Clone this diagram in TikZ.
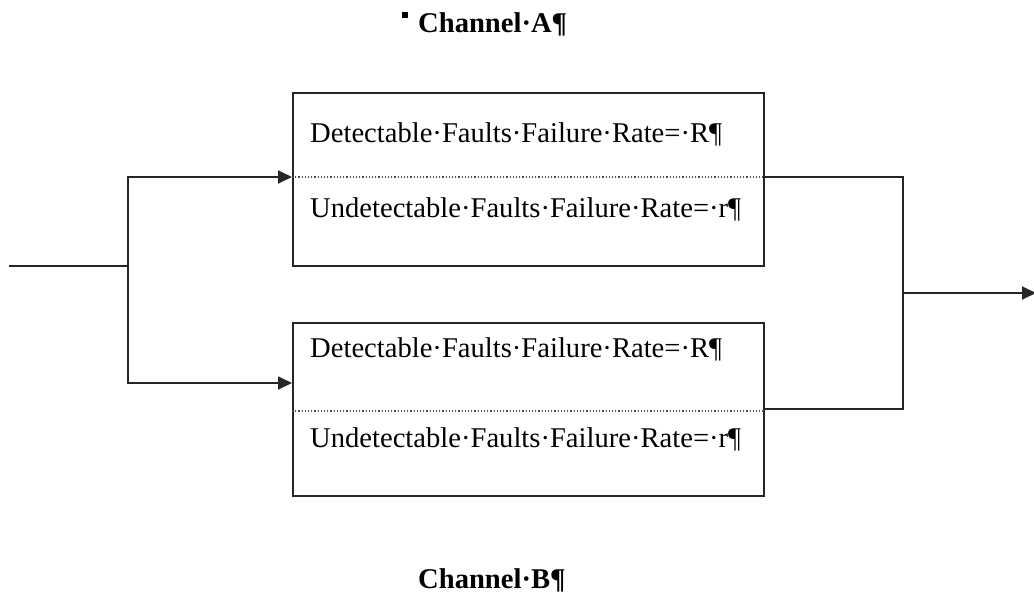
\documentclass[tikz,border=0pt]{standalone}
\usepackage{fontspec}
\setmainfont{Liberation Serif}
\usepackage{tikz}
\usetikzlibrary{positioning, arrows.meta, calc}

\tikzset{
  wire/.style={line width=1.8pt, draw=black!85},
  feed/.style={wire, -{Triangle[length=14pt,width=13pt]}},
  chanbox/.style={draw=black!85, line width=1.8pt, minimum width=471pt, minimum height=173pt, anchor=north west, inner sep=0pt},
  ratetext/.style={anchor=base west, inner sep=0pt, font=\fontsize{28.6}{34}\selectfont},
  chantitle/.style={anchor=base west, inner sep=0pt, font=\fontsize{28.6}{34}\selectfont\bfseries},
  divider/.style={dotted, line width=1.2pt, draw=black!70}
}

\begin{document}
\begin{tikzpicture}[x=1pt, y=-1pt]
  \useasboundingbox (0,0) rectangle (1034,595);

  % channel boxes
  \node[chanbox] (chanA) at (292,92) {};
  \node[chanbox] (chanB) at (292,322) {};

  % titles
  \node[fill=black, minimum size=6pt, inner sep=0pt] (mark) at (405,15) {};
  \node[chantitle] (titleA) at (418,32) {Channel·A¶};
  \node[chantitle] (titleB) at (418,588) {Channel·B¶};

  % rates in channel A
  \node[ratetext] (detA) at (310,142) {Detectable·Faults·Failure·Rate=·R¶};
  \node[ratetext] (undA) at (310,217) {Undetectable·Faults·Failure·Rate=·r¶};
  % rates in channel B
  \node[ratetext] (detB) at (310,357) {Detectable·Faults·Failure·Rate=·R¶};
  \node[ratetext] (undB) at (310,447) {Undetectable·Faults·Failure·Rate=·r¶};

  % dividers
  \coordinate (inA) at (292,177);
  \coordinate (outA) at (763,177);
  \coordinate (divB) at (292,411);
  \coordinate (outB) at (763,409);
  \draw[divider] (inA) -- (outA);
  \draw[divider] (divB) -- (divB -| chanB.east);

  % input side
  \coordinate (src) at (9,266);
  \coordinate (split) at (128,266);
  \coordinate (inB) at (292,383);
  \draw[wire] (src) -- (split);
  \draw[feed] (split) |- (inA);
  \draw[feed] (split) |- (inB);

  % output side
  \coordinate (join) at (903,293);
  \coordinate (sink) at (1036,293);
  \draw[wire] (outA) -| (join);
  \draw[wire] (outB) -| (join);
  \draw[feed] (join) -- (sink);
\end{tikzpicture}
\end{document}
